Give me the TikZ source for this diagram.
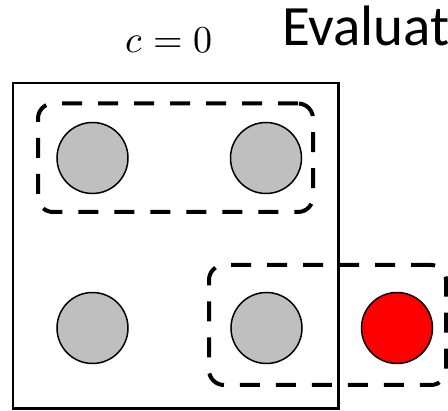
\documentclass[tikz,border=0pt]{standalone}
\usepackage{fontspec}
\usepackage{unicode-math}
\setmathfont{Latin Modern Math}
\newfontfamily\calib{Carlito}
\begin{document}
\begin{tikzpicture}[x=1pt,y=-1pt,
  ball/.style={circle,draw=black,line width=1.5pt,minimum size=71pt,inner sep=0pt},
  grayball/.style={ball,fill=gray75},
  redball/.style={ball,fill=red},
  group/.style={draw=black,line width=4pt,dash pattern=on 20pt off 16pt,rounded corners=15pt,inner sep=0pt},
  frame/.style={draw=black,line width=2.2pt,inner sep=0pt}]
\definecolor{gray75}{RGB}{191,191,191}
\useasboundingbox (0,0) rectangle (448,411);
\clip (0,0) rectangle (448,411);
\node[frame,minimum width=325.5pt,minimum height=325.5pt] (box) at (175.75,245.75) {};
\node[grayball] (a) at (92.5,158) {};
\node[grayball] (b) at (266,158) {};
\node[grayball] (c) at (92.5,328) {};
\node[grayball] (d) at (266.5,328) {};
\node[redball] (e) at (397,328) {};
\node[group,minimum width=275pt,minimum height=108.5pt] (g1) at (175.5,157.75) {};
\node[group,minimum width=237pt,minimum height=120pt] (g2) at (327.5,325) {};
\node[anchor=base,inner sep=0pt,font=\fontsize{38}{44}\selectfont] (cl) at (169,53) {$c = 0$};
\node[anchor=base west,inner sep=0pt,font=\calib\fontsize{57}{66}\selectfont] (ev) at (282,46) {Evaluate};
\end{tikzpicture}
\end{document}
